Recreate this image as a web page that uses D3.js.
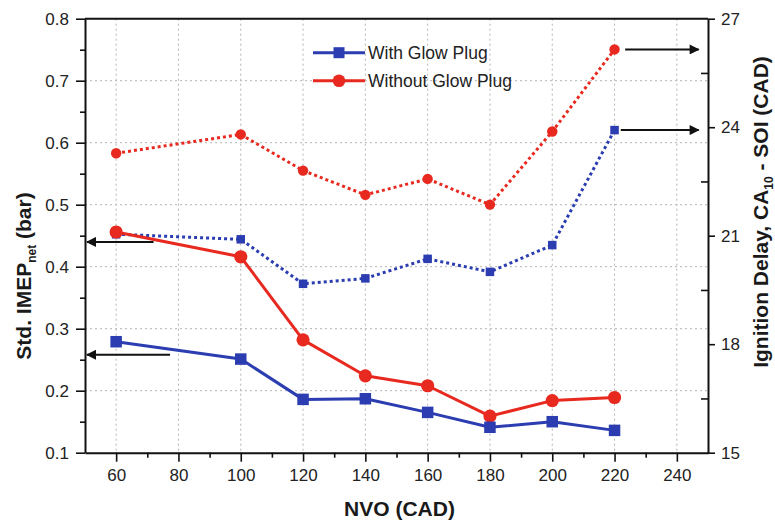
<!DOCTYPE html>
<html>
<head>
<meta charset="utf-8">
<script src="https://cdn.jsdelivr.net/npm/d3@7"></script>
<style>
  html, body { margin: 0; padding: 0; background: #fff; }
  svg { display: block; font-family: "Liberation Sans", Arial, Helvetica, sans-serif; }
</style>
</head>
<body>
<svg id="chart" width="775" height="522"></svg>
<script>
// NVO sweep (crank-angle degrees)
const nvo = [60, 100, 120, 140, 160, 180, 200, 220];

// Left axis: standard deviation of net IMEP (bar) — solid lines
const stdImepWith    = [0.279, 0.251, 0.186, 0.187, 0.165, 0.141, 0.150, 0.136];
const stdImepWithout = [0.456, 0.416, 0.282, 0.224, 0.208, 0.159, 0.184, 0.189];

// Right axis: ignition delay CA10 - SOI (CAD) — dotted lines
const ignDelayWith    = [21.04, 20.90, 19.67, 19.82, 20.36, 20.00, 20.74, 23.92];
const ignDelayWithout = [23.28, 23.80, 22.80, 22.13, 22.57, 21.86, 23.88, 26.15];

// Tick values
const xTicks      = [60, 80, 100, 120, 140, 160, 180, 200, 220, 240];
const xMinor      = [70, 90, 110, 130, 150, 170, 190, 210, 230];
const yLeftTicks  = [0.1, 0.2, 0.3, 0.4, 0.5, 0.6, 0.7, 0.8];
const yLeftMinor  = [0.15, 0.25, 0.35, 0.45, 0.55, 0.65, 0.75];
const yRightTicks = [15, 18, 21, 24, 27];
const yRightMinor = [16.5, 19.5, 22.5, 25.5];

// Axis-pointer arrows: [x start, x end (tip), y]
const leftArrows  = [[72, 50, 0.44], [77.3, 50, 0.258]];
const rightArrows = [[223.4, 247, 26.15], [222, 247, 23.92]];

const legendLabels = ["With Glow Plug", "Without Glow Plug"];

const BLUE = "#2b3db0";
const RED  = "#e8291f";

const svg = d3.select("#chart");
const L = 85, R = 708, T = 18.7, B = 452.7;

const x  = d3.scaleLinear().domain([50, 250]).range([L, R]);
const yL = d3.scaleLinear().domain([0.1, 0.8]).range([B, T]);
const yR = d3.scaleLinear().domain([15, 27]).range([B, T]);

// Grid
const grid = svg.append("g").attr("stroke", "#b4b4b4").attr("stroke-width", 1)
  .attr("stroke-dasharray", "2,3");
xTicks.forEach(v => grid.append("line")
  .attr("x1", x(v)).attr("x2", x(v)).attr("y1", T).attr("y2", B));
yLeftTicks.filter(v => v > 0.1 && v < 0.8).forEach(v => grid.append("line")
  .attr("x1", L).attr("x2", R).attr("y1", yL(v)).attr("y2", yL(v)));

// Axes
function styleAxis(g) {
  g.selectAll("path.domain").attr("stroke", "#111").attr("stroke-width", 2);
  g.selectAll(".tick line").attr("stroke", "#111").attr("stroke-width", 1.6);
  g.selectAll(".tick text").attr("fill", "#222").style("font-size", "17px")
    .style("font-family", "'Liberation Sans', Arial, sans-serif");
}

const xAxis = svg.append("g").attr("transform", `translate(0,${B})`)
  .call(d3.axisBottom(x).tickValues(xTicks).tickSize(9).tickSizeOuter(0).tickPadding(7).tickFormat(d3.format("d")));
styleAxis(xAxis);
svg.append("g").attr("transform", `translate(0,${B})`)
  .call(d3.axisBottom(x).tickValues(xMinor).tickSize(5).tickSizeOuter(0).tickFormat(""))
  .call(g => { g.select("path.domain").remove(); styleAxis(g); });

const yAxisL = svg.append("g").attr("transform", `translate(${L},0)`)
  .call(d3.axisLeft(yL).tickValues(yLeftTicks).tickSize(9).tickSizeOuter(0).tickPadding(7).tickFormat(d3.format(".1f")));
styleAxis(yAxisL);
svg.append("g").attr("transform", `translate(${L},0)`)
  .call(d3.axisLeft(yL).tickValues(yLeftMinor).tickSize(5).tickSizeOuter(0).tickFormat(""))
  .call(g => { g.select("path.domain").remove(); styleAxis(g); });

const yAxisR = svg.append("g").attr("transform", `translate(${R},0)`)
  .call(d3.axisRight(yR).tickValues(yRightTicks).tickSize(7).tickSizeOuter(0).tickPadding(6).tickFormat(d3.format("d")));
styleAxis(yAxisR);
svg.append("g").attr("transform", `translate(${R},0)`)
  .call(d3.axisLeft(yR).tickValues(yRightMinor).tickSize(7).tickSizeOuter(0).tickFormat(""))
  .call(g => { g.select("path.domain").remove(); styleAxis(g); });

// Top frame
svg.append("line").attr("x1", L).attr("x2", R).attr("y1", T).attr("y2", T)
  .attr("stroke", "#111").attr("stroke-width", 2);

// Series
function drawSeries(vals, yScale, color, dotted, shape) {
  const pts = nvo.map((n, i) => [x(n), yScale(vals[i])]);
  svg.append("path")
    .attr("d", d3.line()(pts))
    .attr("fill", "none").attr("stroke", color).attr("stroke-width", 3)
    .attr("stroke-dasharray", dotted ? "3,3" : null)
    .attr("stroke-linejoin", "round");
  const g = svg.append("g").attr("fill", color);
  if (shape === "square") {
    const s = dotted ? 8.5 : 11.5;
    pts.forEach(p => g.append("rect").attr("x", p[0] - s / 2).attr("y", p[1] - s / 2)
      .attr("width", s).attr("height", s));
  } else {
    const r = dotted ? 5.2 : 6.6;
    pts.forEach(p => g.append("circle").attr("cx", p[0]).attr("cy", p[1]).attr("r", r));
  }
}

drawSeries(ignDelayWithout, yR, RED, true, "circle");
drawSeries(ignDelayWith, yR, BLUE, true, "square");
drawSeries(stdImepWithout, yL, RED, false, "circle");
drawSeries(stdImepWith, yL, BLUE, false, "square");

// Arrows pointing to each series' axis
const defs = svg.append("defs");
defs.append("marker").attr("id", "head").attr("viewBox", "0 0 10 10")
  .attr("refX", 9).attr("refY", 5).attr("markerWidth", 7).attr("markerHeight", 5)
  .attr("markerUnits", "strokeWidth").attr("orient", "auto")
  .append("path").attr("d", "M0,0 L10,5 L0,10 Z").attr("fill", "#111");

leftArrows.forEach(a => svg.append("line")
  .attr("x1", x(a[0])).attr("x2", x(a[1]) + 2).attr("y1", yL(a[2])).attr("y2", yL(a[2]))
  .attr("stroke", "#111").attr("stroke-width", 2).attr("marker-end", "url(#head)"));
rightArrows.forEach(a => svg.append("line")
  .attr("x1", x(a[0])).attr("x2", x(a[1])).attr("y1", yR(a[2])).attr("y2", yR(a[2]))
  .attr("stroke", "#111").attr("stroke-width", 2).attr("marker-end", "url(#head)"));

// Legend
const legend = svg.append("g");
const legendRows = [
  { label: legendLabels[0], color: BLUE, shape: "square", y: 52.7 },
  { label: legendLabels[1], color: RED,  shape: "circle", y: 80.7 }
];
legendRows.forEach(r => {
  legend.append("line").attr("x1", 313).attr("x2", 365).attr("y1", r.y).attr("y2", r.y)
    .attr("stroke", r.color).attr("stroke-width", 3);
  if (r.shape === "square") {
    legend.append("rect").attr("x", 339 - 5.5).attr("y", r.y - 5.5)
      .attr("width", 11).attr("height", 11).attr("fill", r.color);
  } else {
    legend.append("circle").attr("cx", 339).attr("cy", r.y).attr("r", 6.3).attr("fill", r.color);
  }
  legend.append("text").attr("x", 368).attr("y", r.y + 6)
    .attr("fill", "#222").style("font-size", "17.5px").text(r.label);
});

// Axis titles
svg.append("text").attr("x", (L + R) / 2 + 3).attr("y", 516)
  .attr("text-anchor", "middle").attr("fill", "#1a1a1a")
  .style("font-size", "21px").style("font-weight", "bold").text("NVO (CAD)");

const lt = svg.append("text")
  .attr("transform", "translate(31,276) rotate(-90)")
  .attr("text-anchor", "middle").attr("fill", "#1a1a1a")
  .style("font-size", "21px").style("font-weight", "bold");
lt.append("tspan").text("Std. IMEP");
lt.append("tspan").attr("dy", 5).style("font-size", "12px").text("net");
lt.append("tspan").attr("dy", -5).text(" (bar)");

const rt = svg.append("text")
  .attr("transform", "translate(768,212) rotate(-90)")
  .attr("text-anchor", "middle").attr("fill", "#1a1a1a")
  .style("font-size", "21px").style("font-weight", "bold");
rt.append("tspan").text("Ignition Delay, CA");
rt.append("tspan").attr("dy", 5).style("font-size", "12px").text("10");
rt.append("tspan").attr("dy", -5).text(" - SOI (CAD)");
</script>
</body>
</html>
